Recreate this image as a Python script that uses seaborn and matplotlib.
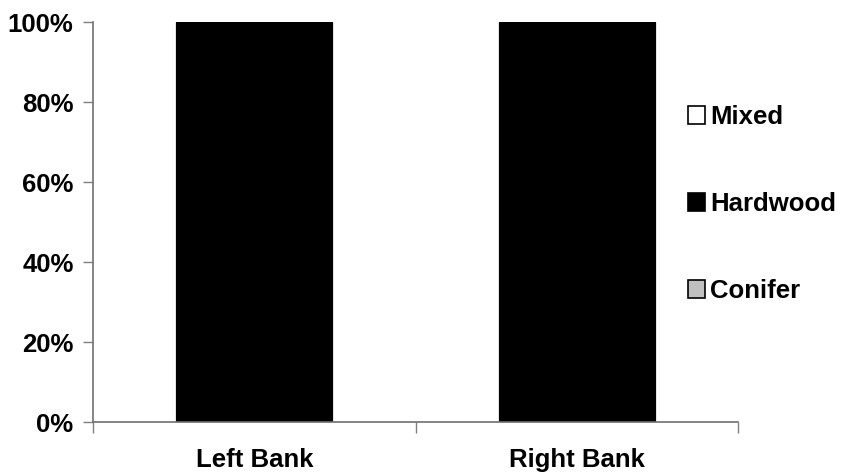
import matplotlib
matplotlib.use("Agg")
import matplotlib.pyplot as plt
import seaborn as sns
import pandas as pd
import numpy as np
from matplotlib.patches import Patch

# Share of forest type on each bank (percent)
banks = ["Left Bank", "Right Bank"]
conifer = [0, 0]
hardwood = [100, 100]
mixed = [0, 0]

series_names = ["Mixed", "Hardwood", "Conifer"]
series_colors = {"Mixed": "#FFFFFF", "Hardwood": "#000000", "Conifer": "#C0C0C0"}
y_ticks = [0, 20, 40, 60, 80, 100]

sns.set_theme(style="white")
plt.rcParams["font.family"] = ["Liberation Sans", "DejaVu Sans"]
plt.rcParams["font.weight"] = "bold"
plt.rcParams["text.color"] = "black"
plt.rcParams["xtick.labelcolor"] = "black"
plt.rcParams["ytick.labelcolor"] = "black"

fig = plt.figure(figsize=(8.41, 4.74), dpi=100)
ax = fig.add_axes([93 / 841, 1 - 422 / 474, (738 - 93) / 841, 400 / 474])

df = pd.DataFrame({"bank": banks, "Conifer": conifer, "Hardwood": hardwood, "Mixed": mixed})
# cumulative tops for a stacked layout: conifer at the bottom, mixed on top
df["top_conifer"] = df["Conifer"]
df["top_hardwood"] = df["Conifer"] + df["Hardwood"]
df["top_mixed"] = df["top_hardwood"] + df["Mixed"]

bar_width = 0.485
for col, name in [("top_mixed", "Mixed"), ("top_hardwood", "Hardwood"), ("top_conifer", "Conifer")]:
    sns.barplot(data=df, x="bank", y=col, color=series_colors[name], edgecolor="black",
                linewidth=0.8, width=bar_width, saturation=1, ax=ax, errorbar=None)

ax.set_xlim(-0.5, len(banks) - 0.5)
ax.set_ylim(0, 100)
ax.set_yticks(y_ticks)
ax.set_yticklabels([f"{v}%" for v in y_ticks], fontsize=18.5, fontweight="bold", color="black")

# category boundaries carry the tick marks, labels sit at the category centres
ax.set_xticks(np.arange(-0.5, len(banks), 1.0))
ax.set_xticklabels([])
ax.set_xticks(np.arange(len(banks)), minor=True)
ax.set_xticklabels(banks, minor=True, fontsize=18.5, fontweight="bold", color="black")
ax.tick_params(axis="x", which="major", direction="out", length=8, width=1, color="#808080", bottom=True)
ax.tick_params(axis="x", which="minor", length=0, pad=19, bottom=True)
ax.tick_params(axis="y", direction="out", length=7, width=1, color="#808080", left=True, pad=7)

ax.set_xlabel("")
ax.set_ylabel("")
for side in ["top", "right"]:
    ax.spines[side].set_visible(False)
for side in ["left", "bottom"]:
    ax.spines[side].set_color("#707070")
    ax.spines[side].set_linewidth(1.2)
ax.grid(False)

handles = [Patch(facecolor=series_colors[n], edgecolor="black", linewidth=1.2) for n in series_names]
fig.legend(handles, series_names, loc="center left", bbox_to_anchor=(675 / 841, 1 - 204 / 474),
           frameon=False, prop={"size": 18.5, "weight": "bold"}, handlelength=0.65,
           handleheight=0.65, handletextpad=0.22, labelspacing=2.45, borderpad=0,
           labelcolor="black")

fig.savefig("out.png", dpi=100)
